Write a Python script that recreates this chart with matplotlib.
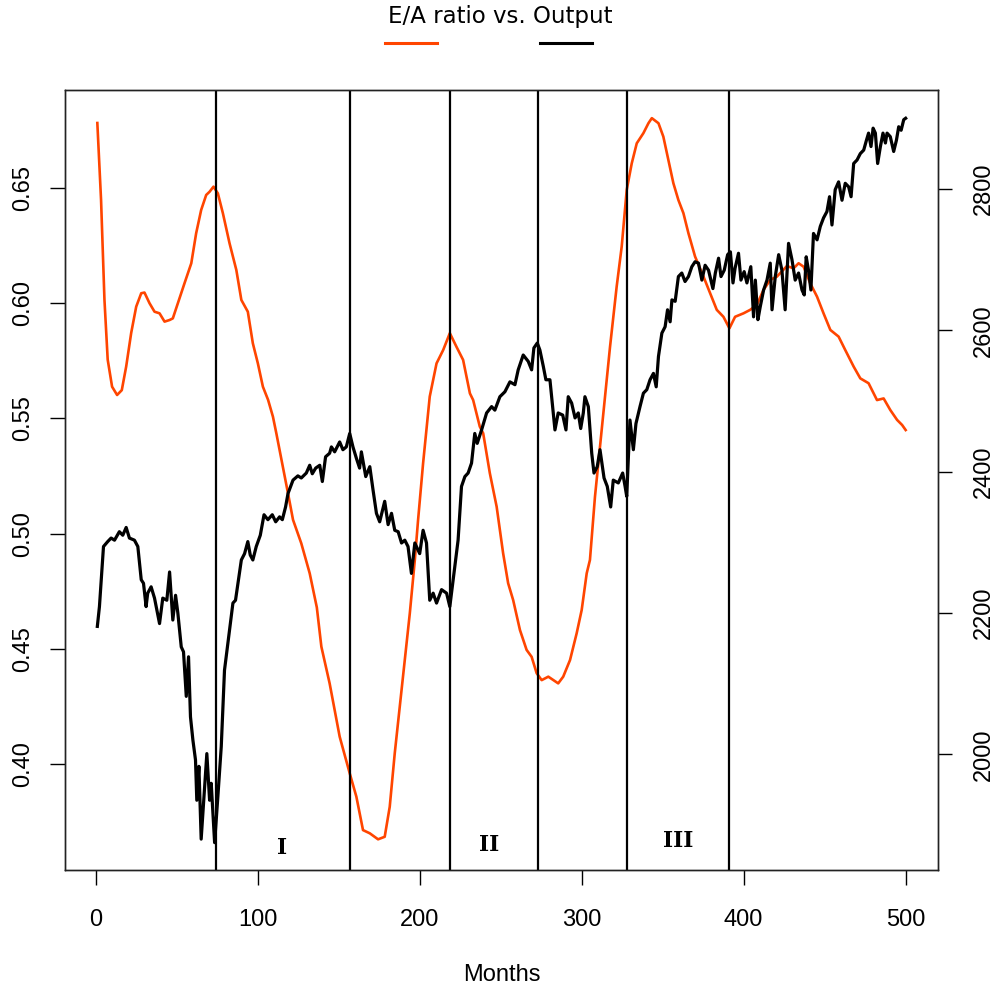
import matplotlib
matplotlib.use('Agg')
import matplotlib.pyplot as plt
from matplotlib.lines import Line2D

## E/A ratio (left axis).
ratio_months = [1, 3.3, 5.4, 7.4, 10.1, 13.2, 16.1, 18.8, 21.9, 25, 28.1, 30.1,
                33.2, 36.3, 39.4, 42.5, 45.6, 47.6, 50.7, 54.8, 59, 62, 65.1,
                68.2, 70.3, 72.7, 75.4, 78.5, 82.6, 86.8, 89.9, 93.9, 97, 100.1,
                103.2, 106.4, 109.4, 111.5, 118.7, 121.8, 126.9, 132.1, 136.5,
                139.3, 144.4, 150.6, 156.8, 160.9, 165, 169.2, 174.3, 178.4,
                181.5, 184.6, 187.7, 190.8, 193.9, 197, 199, 202.1, 206.2, 210.4,
                214.5, 218.6, 222.7, 226.8, 231, 233, 237.1, 239.2, 243.3, 247.5,
                251.5, 254.6, 257.7, 261.9, 266, 269.1, 272.2, 275.3, 279.4,
                282.5, 285.5, 288.6, 292.8, 296.9, 300, 303.1, 305.1, 308.2,
                313.4, 317.5, 321.6, 324.7, 327.8, 330.9, 334, 338.1, 341.2,
                343.3, 347.4, 350.4, 353.5, 356.6, 359.7, 362.8, 365.9, 370,
                375.2, 379.3, 383.4, 387.5, 391.2, 394.7, 399.9, 404, 408.1,
                412.2, 416.4, 420.5, 426.7, 430.8, 433.9, 437, 441.1, 445.3,
                449.3, 453.5, 458.6, 462.7, 467.9, 472, 477.1, 482.3, 486.4,
                490.5, 494.7, 497.8, 500]
ratio_values = [0.678, 0.6446, 0.6013, 0.5754, 0.5637, 0.5601, 0.5622, 0.5724,
                0.5870, 0.5984, 0.6042, 0.6045, 0.5999, 0.5962, 0.5955, 0.5919,
                0.5926, 0.5933, 0.5999, 0.6085, 0.6172, 0.6302, 0.6403, 0.6468,
                0.6482, 0.6504, 0.6475, 0.6389, 0.6259, 0.6143, 0.6013, 0.5962,
                0.5825, 0.5738, 0.5637, 0.558, 0.5507, 0.5435, 0.5175, 0.5060,
                0.4958, 0.4828, 0.468, 0.4510, 0.4351, 0.4120, 0.3961, 0.3860,
                0.3715, 0.3701, 0.3675, 0.3686, 0.3816, 0.4048, 0.4250, 0.4452,
                0.4655, 0.4886, 0.5059, 0.5305, 0.5594, 0.5738, 0.5796, 0.5869,
                0.5810, 0.5753, 0.5608, 0.5579, 0.5464, 0.5435, 0.5262, 0.5117,
                0.4915, 0.4785, 0.4712, 0.4582, 0.4496, 0.4466, 0.4395, 0.4365,
                0.4380, 0.4365, 0.4351, 0.4380, 0.4452, 0.4568, 0.4669, 0.4828,
                0.4886, 0.5160, 0.5522, 0.5810, 0.6071, 0.6244, 0.6490, 0.6605,
                0.6692, 0.6736, 0.6779, 0.6801, 0.6779, 0.6721, 0.6620, 0.6519,
                0.6446, 0.6389, 0.6302, 0.6201, 0.6114, 0.6042, 0.5970, 0.5940,
                0.5890, 0.5940, 0.5955, 0.5970, 0.5991, 0.6056, 0.6100, 0.6114,
                0.6160, 0.6150, 0.6172, 0.6157, 0.6085, 0.6027, 0.5955, 0.5883,
                0.5854, 0.5796, 0.5724, 0.5673, 0.5652, 0.5579, 0.5586, 0.5536,
                0.5493, 0.5471, 0.5449]

## Output (right axis).
output_months = [1, 2.3, 4.8, 7.4, 9.5, 11.6, 14.6, 16.7, 18.8, 20.8, 23.9, 26,
                 28.1, 29.5, 31.1, 32.1, 34.2, 36.3, 39.4, 41.4, 43.9, 45.6,
                 47.6, 49.3, 50.7, 52.8, 54.2, 55.9, 57.3, 58.5, 60, 61.6, 62.4,
                 63.7, 65.1, 68.6, 70.3, 71.3, 73.4, 75.4, 77.5, 79.5, 82.6,
                 84.7, 86.3, 89.9, 91.9, 93.9, 95.4, 97, 99.1, 101.6, 103.9,
                 106.3, 109, 111.1, 113.5, 115.2, 117.2, 118.7, 121.8, 124.8,
                 126.9, 130, 132.1, 133.7, 135.8, 138.3, 139.9, 141.9, 144.4,
                 145.5, 147.5, 150.6, 152.6, 154.7, 156.8, 158.8, 160.9, 162.9,
                 164, 166.7, 169.2, 171.2, 173.3, 175.3, 178.4, 180.5, 182.6,
                 184.6, 186.7, 188.8, 190.8, 192.8, 194.9, 197, 200, 202.1,
                 204.2, 206.2, 208.3, 210.4, 213.5, 216.6, 218.6, 221.7, 223.7,
                 225.8, 227.9, 229.9, 232, 234, 235.5, 238.2, 241.3, 244.4,
                 246.4, 249.5, 252.6, 255.7, 258.8, 260.8, 263.9, 267, 269.1,
                 270.5, 272.6, 274.2, 276.3, 277.9, 280.4, 283.5, 285.5, 288.3,
                 290.3, 291.7, 293.8, 295.9, 297.9, 299.4, 301, 302, 304.1,
                 306.2, 307.6, 309.6, 311.3, 313.8, 315.8, 317.9, 319.5, 322.6,
                 325.3, 326.8, 327.8, 329.8, 331.9, 333.5, 336, 338.1, 340.2,
                 342.2, 344.3, 346, 347.4, 349.5, 351.5, 353, 354.6, 355.7,
                 357.7, 359.7, 361.8, 363.8, 365.9, 368, 370, 372.1, 374.2,
                 376.2, 378.3, 381, 382.5, 384.5, 386, 388, 390.1, 391.8, 393.4,
                 394.7, 396.8, 398.3, 400.3, 402, 404.4, 406.1, 407.2, 408.8,
                 410.2, 412.3, 414.4, 416.4, 417.5, 419.5, 421.6, 423.6, 425.6,
                 427.7, 429.8, 431.8, 433.9, 436, 437.4, 438.6, 440, 441.5,
                 443.1, 445.3, 447.3, 449.3, 451.4, 453, 454.5, 456.5, 458.6,
                 460.7, 462.7, 464.8, 466.3, 467.9, 470, 472, 474.1, 475.8,
                 477.1, 478.6, 479.9, 481.3, 482.7, 484.4, 486, 487.5, 488.5,
                 490.5, 492.6, 494.3, 495.7, 497.2, 498.8, 500]
output_values = [2181, 2209, 2294, 2301, 2306, 2303, 2315, 2310, 2321, 2306,
                 2303, 2294, 2247, 2242, 2209, 2228, 2237, 2221, 2185, 2221,
                 2218, 2258, 2190, 2225, 2200, 2152, 2145, 2082, 2138, 2053,
                 2020, 1992, 1935, 1983, 1880, 2001, 1935, 1959, 1875, 1940,
                 2011, 2119, 2176, 2214, 2218, 2275, 2284, 2301, 2282, 2275,
                 2294, 2310, 2339, 2332, 2339, 2329, 2336, 2332, 2350, 2369,
                 2388, 2394, 2391, 2398, 2409, 2397, 2405, 2409, 2386, 2421,
                 2426, 2435, 2428, 2442, 2431, 2435, 2454, 2435, 2419, 2405,
                 2428, 2393, 2407, 2374, 2341, 2329, 2358, 2325, 2341, 2317,
                 2315, 2299, 2303, 2294, 2256, 2299, 2284, 2317, 2299, 2218,
                 2228, 2214, 2233, 2228, 2209, 2266, 2303, 2379, 2393, 2398,
                 2412, 2454, 2440, 2459, 2483, 2492, 2487, 2506, 2513, 2527,
                 2523, 2544, 2565, 2556, 2544, 2575, 2582, 2572, 2549, 2530,
                 2530, 2459, 2483, 2480, 2459, 2506, 2497, 2476, 2483, 2461,
                 2483, 2506, 2492, 2426, 2398, 2407, 2431, 2391, 2379, 2350,
                 2388, 2384, 2398, 2379, 2365, 2473, 2431, 2468, 2492, 2511,
                 2516, 2530, 2539, 2520, 2563, 2596, 2605, 2629, 2612, 2643,
                 2641, 2676, 2681, 2669, 2676, 2690, 2697, 2695, 2671, 2692,
                 2685, 2659, 2681, 2702, 2676, 2685, 2707, 2711, 2667, 2688,
                 2709, 2671, 2683, 2667, 2690, 2619, 2671, 2615, 2633, 2657,
                 2671, 2695, 2629, 2676, 2707, 2685, 2629, 2723, 2700, 2671,
                 2681, 2657, 2650, 2704, 2685, 2657, 2737, 2728, 2747, 2759,
                 2768, 2789, 2749, 2799, 2810, 2784, 2808, 2803, 2789, 2836,
                 2841, 2850, 2855, 2869, 2879, 2860, 2886, 2879, 2836, 2860,
                 2879, 2865, 2879, 2874, 2853, 2869, 2888, 2883, 2898, 2900]

## Phase boundaries and labels.
breaks = [74, 157, 219, 273, 328, 391]
phase_labels = ['I', 'II', 'III']
phase_x = [115, 243, 359.5]
phase_y = [0.3637, 0.365, 0.3668]

ORANGE = '#ff4500'
TICK_FONT = 'Liberation Sans'
W, H = 995.0, 990.0

fig = plt.figure(figsize=(9.95, 9.9), dpi=100)
ax = fig.add_axes([65 / W, 1 - 870 / H, 873 / W, 780 / H])
ax2 = ax.twinx()

## Orange E/A ratio on left axis.
ax.plot(ratio_months, ratio_values, color=ORANGE, lw=1.9, solid_joinstyle='round')
ax.set_xlim(-18.96, 519.96)
ax.set_ylim(0.3542, 0.6923)

## Black output on right axis.
ax2.plot(output_months, output_values, color='black', lw=2.3, solid_joinstyle='round')
ax2.set_ylim(1836.3, 2940)

for b in breaks:
  ax2.axvline(b, color='black', lw=1.6)

for lab, px, py in zip(phase_labels, phase_x, phase_y):
  ax.text(px, py, lab, family='DejaVu Serif', fontsize=15.5, fontweight='bold',
          ha='center', va='center')

## Ticks, R style.
ax.set_xticks([0, 100, 200, 300, 400, 500])
ax.set_yticks([0.40, 0.45, 0.50, 0.55, 0.60, 0.65])
ax.set_yticklabels(['0.40', '0.45', '0.50', '0.55', '0.60', '0.65'],
                   rotation=90, va='center')
ax2.set_yticks([2000, 2200, 2400, 2600, 2800])
ax2.set_yticklabels(['2000', '2200', '2400', '2600', '2800'],
                    rotation=90, va='center')
ax.tick_params(axis='x', length=11, width=1, labelsize=17, pad=17)
ax.tick_params(axis='y', length=11, width=1, labelsize=17, pad=11)
ax2.tick_params(axis='y', length=10, width=1, labelsize=17, pad=15)
for lab in ax.get_xticklabels() + ax.get_yticklabels() + ax2.get_yticklabels():
  lab.set_family(TICK_FONT)

for sp in list(ax.spines.values()) + list(ax2.spines.values()):
  sp.set_linewidth(1.0)
  sp.set_color('#222222')

ax.set_xlabel('Months', family=TICK_FONT, fontsize=17, labelpad=24)

## Legend above the box: title and two keys.
fig.text(500 / W, 1 - 16 / H, 'E/A ratio vs. Output', family='DejaVu Sans',
         fontsize=16.5, ha='center', va='center')
fig.add_artist(Line2D([385 / W, 437 / W], [1 - 43 / H, 1 - 43 / H],
                      color=ORANGE, lw=2.2))
fig.add_artist(Line2D([540 / W, 592 / W], [1 - 43 / H, 1 - 43 / H],
                      color='black', lw=2.2))

fig.savefig('out.png', dpi=100)
